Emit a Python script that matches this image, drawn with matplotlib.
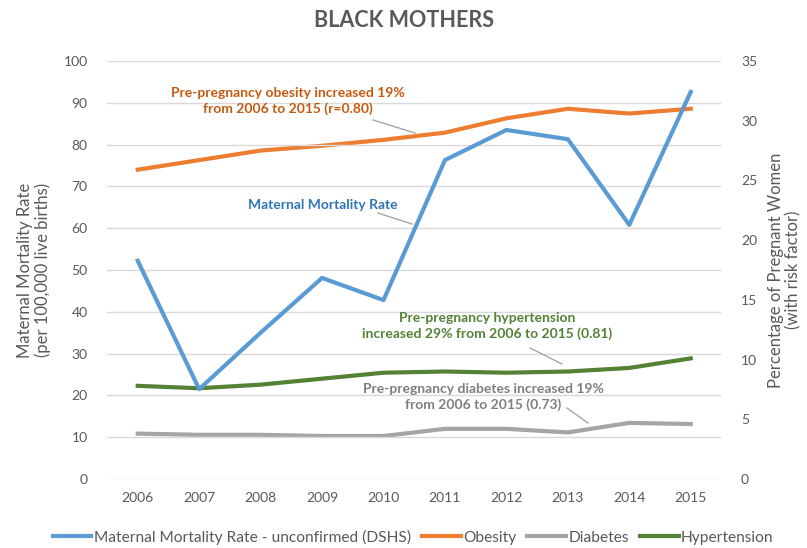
import matplotlib.pyplot as plt

plt.rcParams['font.family'] = ['Lato', 'DejaVu Sans']

# Data
years = [2006, 2007, 2008, 2009, 2010, 2011, 2012, 2013, 2014, 2015]
mmr = [52.2, 21.5, 35.0, 48.1, 42.8, 76.3, 83.5, 81.3, 60.8, 92.6]
obesity = [25.9, 26.7, 27.5, 27.9, 28.4, 29.0, 30.2, 31.0, 30.6, 31.0]
diabetes = [3.8, 3.7, 3.7, 3.6, 3.6, 4.2, 4.2, 3.9, 4.7, 4.6]
hypertension = [7.8, 7.6, 7.9, 8.4, 8.9, 9.0, 8.9, 9.0, 9.3, 10.1]

c_blue = '#5B9BD5'
c_orange = '#ED7D31'
c_gray = '#A5A5A5'
c_green = '#548235'
tick_col = '#595959'

fig = plt.figure(figsize=(8.07, 5.48), dpi=100)
ax = fig.add_axes([0.1326, 0.1259, 0.7614, 0.7628])
ax2 = ax.twinx()

l1, = ax.plot(years, mmr, color=c_blue, lw=3, label='Maternal Mortality Rate - unconfirmed (DSHS)', zorder=5)
l2, = ax2.plot(years, obesity, color=c_orange, lw=3, label='Obesity')
l3, = ax2.plot(years, diabetes, color=c_gray, lw=3, label='Diabetes')
l4, = ax2.plot(years, hypertension, color=c_green, lw=3, label='Hypertension')

ax.set_zorder(ax2.get_zorder() + 1)
ax.patch.set_visible(False)

ax.set_xlim(2005.5, 2015.5)
ax.set_ylim(0, 100)
ax2.set_ylim(0, 35)
ax.set_xticks(years)
ax.set_yticks(range(0, 101, 10))
ax2.set_yticks(range(0, 36, 5))
ax.grid(axis='y', color='#D9D9D9', lw=1)
ax.set_axisbelow(True)

for a in (ax, ax2):
    for s in a.spines.values():
        s.set_visible(False)
    a.tick_params(length=0, labelsize=10, labelcolor=tick_col)
ax.tick_params(axis='y', pad=14)
ax.tick_params(axis='x', pad=9)
ax2.tick_params(axis='y', pad=14)

ax.set_ylabel('Maternal Mortality Rate\n(per 100,000 live births)', fontsize=12,
              color=tick_col, linespacing=1.1, labelpad=9)
ax2.set_ylabel('Percentage of Pregnant Women\n(with risk factor)', fontsize=12,
               color=tick_col, linespacing=1.1, labelpad=8)

fig.text(0.5, 0.962, 'BLACK MOTHERS', ha='center', va='center', fontsize=15.5,
         fontweight='bold', color=tick_col)

# Annotations (pixel positions converted to figure fraction)
def fx(px):
    return px / 807.0

def fy(py):
    return 1 - py / 548.0

def note(x, y, txt, col, x0, y0, x1, y1):
    fig.text(fx(x), fy(y), txt, ha='center', va='center', fontsize=10,
             fontweight='bold', color=col, linespacing=1.4)
    fig.add_artist(plt.Line2D([fx(x0), fx(x1)], [fy(y0), fy(y1)], color='#A6A6A6', lw=1))

note(288, 101, 'Pre-pregnancy obesity increased 19%\nfrom 2006 to 2015 (r=0.80)', '#C55A11',
     373, 120, 415, 133)
note(323, 205, 'Maternal Mortality Rate', '#2E75B6', 378, 213, 412, 224)
note(487, 326, 'Pre-pregnancy hypertension\nincreased 29% from 2006 to 2015 (0.81)', '#538135',
     530, 348, 562, 364)
note(483, 397, 'Pre-pregnancy diabetes increased 19%\nfrom 2006 to 2015 (0.73)', '#7F7F7F',
     567, 408, 588, 423)

fig.legend(handles=[l1, l2, l3, l4], loc='center', bbox_to_anchor=(fx(413), fy(537)), ncol=4,
           frameon=False, fontsize=11.2, handlelength=2.5, handletextpad=0.15,
           columnspacing=0.7, labelcolor=tick_col)

fig.savefig('out.png', dpi=100)
